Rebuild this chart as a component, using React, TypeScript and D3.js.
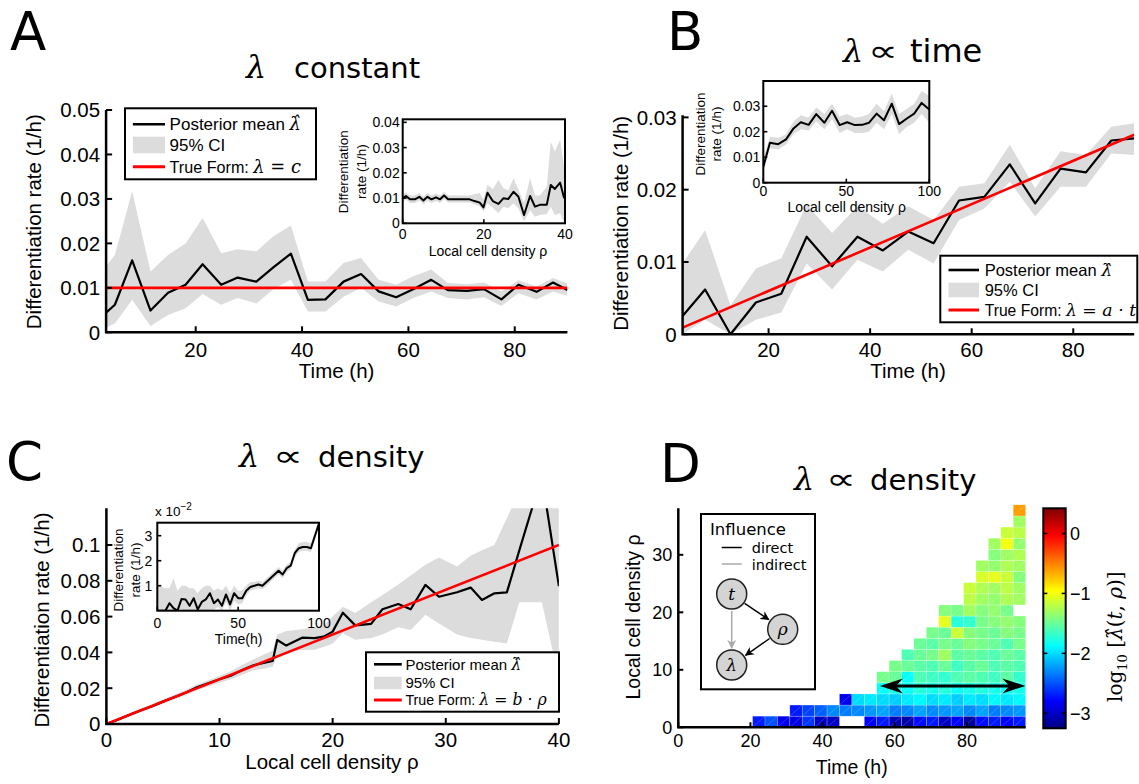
import React from 'react';
import * as d3 from 'd3';

const SANS = "'Liberation Sans', Arial, Helvetica, sans-serif";
const DV = "'DejaVu Sans', sans-serif";
const SERIF = "'DejaVu Serif', serif";
const BAND = '#dcdcdc';
const RED = '#ff0000';

// ---------------- Panel A : lambda constant ----------------
const timeA = [3.15, 4.8, 8.05, 11.5, 14.8, 18.1, 21.3, 24.8, 27.9, 31.4, 34.6, 37.9, 41.1, 44.4, 47.8, 51.1, 54.4, 57.7, 60.9, 64.3, 67.4, 71, 74.2, 77.5, 80.7, 84.1, 87.2, 89.9];
const meanA = [0.0044, 0.0062, 0.0162, 0.0049, 0.0089, 0.0107, 0.0153, 0.0107, 0.0123, 0.0114, 0.0146, 0.0177, 0.0073, 0.0074, 0.0114, 0.0131, 0.0092, 0.0079, 0.0097, 0.0118, 0.0095, 0.0093, 0.0097, 0.0074, 0.0107, 0.0091, 0.0112, 0.0095];
const upperA = [0.0148, 0.0174, 0.0317, 0.0137, 0.0174, 0.02, 0.0257, 0.0178, 0.0187, 0.0182, 0.0216, 0.024, 0.0114, 0.0114, 0.0156, 0.0167, 0.0118, 0.0107, 0.0126, 0.0141, 0.0111, 0.0108, 0.0112, 0.0092, 0.0117, 0.0103, 0.0122, 0.011];
const lowerA = [0.0011, 0.002, 0.0073, 0.0014, 0.0039, 0.0054, 0.0086, 0.0062, 0.0077, 0.0065, 0.0097, 0.0118, 0.0047, 0.0047, 0.008, 0.01, 0.0069, 0.0058, 0.0077, 0.0092, 0.0077, 0.0074, 0.0079, 0.0059, 0.0088, 0.0074, 0.0092, 0.0082];
const trueTimeA = [3.15, 89.9];
const trueRateA = [0.01, 0.01];
const xTicksA = [20, 40, 60, 80];
const yTicksA = [0, 0.01, 0.02, 0.03, 0.04, 0.05];

// inset A
const rhoIA = [0, 0.8, 1.8, 3, 4.1, 5.1, 6.1, 7.1, 8.2, 9.2, 10.2, 11.2, 16.5, 17.7, 19, 19.9, 20.9, 22.2, 23.6, 24.8, 26, 27.3, 28.5, 29.9, 31.4, 32.6, 33.8, 35.5, 36.5, 37.5, 38.8, 39.8];
const meanIA = [0.0099, 0.0108, 0.0095, 0.0095, 0.0105, 0.009, 0.0105, 0.0095, 0.0103, 0.0095, 0.011, 0.0095, 0.0095, 0.0088, 0.0082, 0.0063, 0.0121, 0.0088, 0.0077, 0.0099, 0.0096, 0.0125, 0.0106, 0.0033, 0.0108, 0.0066, 0.0073, 0.0073, 0.0152, 0.0136, 0.0161, 0.0099];
const upperIA = [0.0115, 0.0122, 0.011, 0.011, 0.012, 0.0105, 0.012, 0.011, 0.0118, 0.011, 0.0125, 0.011, 0.011, 0.0115, 0.012, 0.0095, 0.0153, 0.0135, 0.0172, 0.014, 0.013, 0.0178, 0.0135, 0.008, 0.0178, 0.011, 0.011, 0.0145, 0.0323, 0.0284, 0.033, 0.0224];
const lowerIA = [0.0085, 0.0094, 0.008, 0.008, 0.009, 0.0075, 0.009, 0.008, 0.0088, 0.008, 0.0095, 0.0082, 0.0082, 0.0075, 0.0068, 0.0046, 0.0079, 0.0062, 0.004, 0.0066, 0.006, 0.0079, 0.006, 0.0007, 0.0053, 0.0026, 0.0033, 0.0037, 0.0066, 0.0033, 0.004, 0.0003];
const xTicksIA = [0, 20, 40];
const yTicksIA = [0, 0.01, 0.02, 0.03, 0.04];

// ---------------- Panel B : lambda ∝ time ----------------
const timeB = [3.07, 7.5, 12.5, 17.5, 22.5, 27.5, 32.5, 37.5, 42.5, 47.5, 52.5, 57.5, 62.5, 67.5, 72.5, 77.5, 82.5, 87.5, 92];
const meanB = [0.00253, 0.0062, 0, 0.0044, 0.0056, 0.0135, 0.0094, 0.0135, 0.0116, 0.0142, 0.0126, 0.0185, 0.019, 0.0235, 0.0181, 0.0229, 0.0224, 0.0268, 0.0271];
const upperB = [0.0098, 0.0144, 0.004, 0.0091, 0.0105, 0.0179, 0.014, 0.0177, 0.0153, 0.0177, 0.0158, 0.0204, 0.0209, 0.0262, 0.0202, 0.0253, 0.0248, 0.0287, 0.0292];
const lowerB = [0, 0.002, 0, 0.002, 0.003, 0.0098, 0.0062, 0.0103, 0.0087, 0.0117, 0.0098, 0.0158, 0.0174, 0.0211, 0.0163, 0.0204, 0.0204, 0.025, 0.0248];
const trueTimeB = [3.07, 92];
const trueRateB = [0.00092, 0.0276];
const xTicksB = [20, 40, 60, 80];
const yTicksB = [0, 0.01, 0.02, 0.03];

// inset B
const rhoIB = [0, 4, 9, 13.7, 18.2, 22.6, 27.3, 31.9, 36.8, 41.4, 46, 50.5, 55.2, 59.6, 63.6, 68.3, 72.7, 77.4, 81.8, 86.5, 90.9, 95.4, 100];
const meanIB = [0.0063, 0.0157, 0.0151, 0.017, 0.0213, 0.0237, 0.0227, 0.0269, 0.0235, 0.0282, 0.0226, 0.0237, 0.0226, 0.0227, 0.0235, 0.0271, 0.0245, 0.031, 0.023, 0.0252, 0.0271, 0.0313, 0.0287];
const upperIB = [0.0095, 0.018, 0.0175, 0.019, 0.024, 0.0265, 0.0255, 0.0295, 0.027, 0.031, 0.026, 0.027, 0.0255, 0.026, 0.027, 0.031, 0.028, 0.035, 0.027, 0.029, 0.031, 0.036, 0.034];
const lowerIB = [0.004, 0.0135, 0.013, 0.015, 0.019, 0.021, 0.0205, 0.024, 0.021, 0.025, 0.0195, 0.021, 0.0195, 0.0195, 0.02, 0.0235, 0.021, 0.027, 0.019, 0.022, 0.0235, 0.027, 0.0235];
const xTicksIB = [0, 50, 100];
const yTicksIB = [0, 0.01, 0.02, 0.03];

// ---------------- Panel C : lambda ∝ density ----------------
const rhoC = [0, 1, 2, 3, 4, 5, 6, 7, 8, 9, 10, 11, 12, 13, 14, 14.7, 15.1, 15.9, 17.3, 18.4, 19.2, 20, 20.9, 22, 23.4, 24.4, 25.8, 26.9, 28.2, 29.4, 31, 32.2, 33.2, 34.3, 35.4, 36.5, 37.6, 38.5, 40];
const meanC = [0, 0.0024, 0.005, 0.0075, 0.0098, 0.0125, 0.015, 0.0175, 0.0205, 0.0228, 0.025, 0.027, 0.0302, 0.0328, 0.0342, 0.0352, 0.0469, 0.0438, 0.0482, 0.048, 0.0488, 0.0516, 0.0622, 0.0551, 0.0559, 0.0641, 0.067, 0.0641, 0.0777, 0.0711, 0.0736, 0.0762, 0.0693, 0.073, 0.0735, 0.097, 0.12, 0.138, 0.077];
const upperC = [0, 0.003, 0.006, 0.0085, 0.011, 0.0138, 0.0163, 0.019, 0.022, 0.0245, 0.027, 0.0295, 0.033, 0.036, 0.039, 0.041, 0.05, 0.052, 0.053, 0.054, 0.055, 0.06, 0.0655, 0.062, 0.068, 0.072, 0.078, 0.083, 0.089, 0.093, 0.088, 0.094, 0.097, 0.1, 0.115, 0.13, 0.14, 0.15, 0.15];
const lowerC = [0, 0.0015, 0.0042, 0.0066, 0.0088, 0.0113, 0.0137, 0.016, 0.019, 0.021, 0.023, 0.025, 0.0275, 0.03, 0.031, 0.032, 0.038, 0.04, 0.0413, 0.0415, 0.043, 0.045, 0.0507, 0.047, 0.048, 0.05, 0.054, 0.0525, 0.061, 0.0562, 0.05, 0.048, 0.047, 0.046, 0.045, 0.068, 0.068, 0.068, 0.025];
const trueRhoC = [0, 40];
const trueRateC = [0, 0.1];
const xTicksC = [0, 10, 20, 30, 40];
const yTicksC = [0, 0.02, 0.04, 0.06, 0.08, 0.1];

// inset C (values in units of 1e-2)
const timeIC = [0, 2.5, 5, 7.5, 10, 12.5, 15, 17.5, 20, 22.5, 25, 27.5, 30, 32.5, 35, 37.5, 40, 42.5, 45, 47.5, 50, 52.5, 55, 57.5, 60, 62.5, 65, 67.5, 70, 72.5, 75, 77.5, 80, 82.5, 85, 87.5, 90, 92.5, 95, 97.5, 100];
const meanIC = [0, 0, 0, 0.3, 0.1, 0, 0.47, 0.45, 0.2, 0.5, 0.05, 0.35, 0.45, 0.7, 0.3, 0.45, 0.2, 0.65, 0.25, 0.7, 0.5, 0.5, 0.8, 0.95, 1.0, 1.05, 1.0, 1.15, 1.3, 1.45, 1.6, 1.45, 1.7, 1.8, 2.3, 2.5, 2.55, 2.55, 2.5, 3.0, 3.5];
const upperIC = [1.0, 0.95, 0.9, 0.9, 1.3, 0.8, 1.0, 1.0, 0.9, 0.9, 0.7, 0.9, 1.0, 1.0, 0.8, 0.9, 0.8, 1.0, 0.7, 1.0, 0.8, 0.8, 1.0, 1.15, 1.15, 1.2, 1.15, 1.3, 1.45, 1.6, 1.75, 1.6, 1.85, 1.95, 2.45, 2.7, 2.75, 2.75, 2.7, 3.15, 3.55];
const lowerIC = [0, 0, 0, 0, 0, 0, 0, 0, 0, 0, 0, 0, 0, 0, 0.05, 0.15, 0, 0.35, 0, 0.4, 0.25, 0.3, 0.6, 0.8, 0.85, 0.9, 0.85, 1.0, 1.15, 1.3, 1.45, 1.3, 1.55, 1.65, 2.15, 2.35, 2.4, 2.4, 2.35, 2.85, 3.45];
const xTicksIC = [0, 50, 100];
const yTicksIC = [1, 2, 3];

// ---------------- Panel D : heat map log10 lambda(t, rho) ----------------
const heatFirstTime = 20.6;   // left edge of first time bin (h)
const heatTimeBin = 3.44;     // width of a time bin (h)
const heatRhoBin = 1.935;     // height of a density bin
const heatStartCol = [0, 3, 7, 10, 10, 11, 12, 13, 14, 15, 15, 17, 17, 18, 18, 19, 19, 20, 21, 21];
const heatRows: (number | null)[][] = [
  [-2.7, -2.5, -2.85, -2.9, -2.6, -3.0, -3.0, null, null, -2.8, -2.7, -3.05, -3.1, -2.75, -2.7, -3.0, -2.8, -3.15, -2.75, -2.7, -2.8, -2.7],
  [-2.7, -2.55, -2.45, -2.3, -2.35, -2.3, -2.25, -2.2, -2.35, -2.3, -2.2, -2.3, -2.25, -2.2, -2.3, -2.2, -2.35, -2.3, -2.25],
  [-2.85, -2.0, -1.95, -2.0, -2.05, -1.95, -1.9, -2.0, -1.95, -2.05, -1.95, -2.0, -1.9, -1.95, -1.9],
  [-1.85, -1.8, -1.85, -1.75, -1.8, -1.75, -1.85, -1.8, -1.75, -1.8, -1.85, -1.8],
  [-1.45, -1.5, -1.85, -1.6, -1.65, -1.7, -1.6, -1.55, -1.6, -1.65, -1.55, -1.7],
  [-1.45, -1.5, -1.55, -1.6, -1.5, -1.65, -1.55, -1.5, -1.6, -1.55, -1.6],
  [-1.6, -1.5, -1.45, -1.3, -1.55, -1.5, -1.55, -1.6, -1.5, -1.55],
  [-1.5, -1.55, -1.45, -1.5, -1.4, -1.45, -1.5, -1.6, -1.45],
  [-1.45, -1.5, -1.15, -1.4, -1.45, -1.5, -1.4, -1.45],
  [-1.05, -1.75, -1.7, -1.45, -1.4, -1.35, -1.4],
  [-1.4, -1.45, -1.3, -1.4, -1.35, -1.45],
  [-1.2, -1.3, -1.35, -1.25, -1.3],
  [-1.15, -1.25, -1.3, -1.2, -1.3],
  [-1.1, -1.05, -1.15, -1.4],
  [-1.3, -1.35, -1.25, -1.3],
  [-1.4, -1.3, -1.25],
  [-1.3, -1.0, -1.35],
  [-1.15, -1.2],
  [-1.3],
  [-0.6],
];
const colorDomainD = [-3.25, 0.42];
const cbTicks = [-3, -2, -1, 0];
const xTicksD = [0, 20, 40, 60, 80];
const yTicksD = [0, 10, 20, 30];
const arrowTimeD = [55.9, 96.2];
const arrowRhoD = 7.2;

function jet(n: number) {
  const c = (v: number) => Math.max(0, Math.min(1, v));
  return d3.rgb(255 * c(1.5 - Math.abs(4 * n - 3)), 255 * c(1.5 - Math.abs(4 * n - 2)), 255 * c(1.5 - Math.abs(4 * n - 1))).formatHex();
}
const jetScale = (v: number) => jet((v - colorDomainD[0]) / (colorDomainD[1] - colorDomainD[0]));

function Series({ xs, mean, lo, hi, tx, ty, x, y, clip, lw = 2.2, rw = 2.6 }: any) {
  const area = d3.area<number>().x((d) => x(d)).y0((d, i) => y(lo[i])).y1((d, i) => y(hi[i]));
  const line = d3.line<number>().x((d) => x(d)).y((d, i) => y(mean[i]));
  const tline = tx ? d3.line<number>().x((d) => x(d)).y((d, i) => y(ty[i])) : null;
  return (
    <g clipPath={`url(#${clip})`}>
      <path d={area(xs) || ''} fill={BAND} />
      <path d={line(xs) || ''} fill="none" stroke="#000" strokeWidth={lw} strokeLinejoin="round" />
      {tline && <path d={tline(tx) || ''} fill="none" stroke={RED} strokeWidth={rw} />}
    </g>
  );
}

function Axes({ x, y, xTicks, yTicks, fs, tick, xLabelY, box, sw, yGap = 6, fmtX = String, fmtY = String }: any) {
  const [x0, x1] = x.range();
  const [y0, y1] = y.range();
  return (
    <g fontFamily={SANS}>
      {box ? (
        <rect x={x0} y={y1} width={x1 - x0} height={y0 - y1} fill="none" stroke="#000" strokeWidth={sw} />
      ) : (
        <path d={`M${x0},${y1}V${y0}H${x1}`} fill="none" stroke="#000" strokeWidth={sw} />
      )}
      {xTicks.map((t: number) => (
        <line key={'xt' + t} x1={x(t)} x2={x(t)} y1={y0} y2={y0 - tick} stroke="#000" strokeWidth={sw * 0.8} />
      ))}
      {yTicks.map((t: number) => (
        <line key={'yt' + t} x1={x0} x2={x0 + tick} y1={y(t)} y2={y(t)} stroke="#000" strokeWidth={sw * 0.8} />
      ))}
      {xTicks.map((t: number) => (
        <text key={'xl' + t} x={x(t)} y={xLabelY} textAnchor="middle" fontSize={fs}>{fmtX(t)}</text>
      ))}
      {yTicks.map((t: number) => (
        <text key={'yl' + t} x={x0 - yGap} y={y(t) + fs * 0.36} textAnchor="end" fontSize={fs}>{fmtY(t)}</text>
      ))}
    </g>
  );
}

const Hat = ({ fs }: any) => (
  <tspan fontFamily={SERIF} fontStyle="italic" fontSize={fs}>{'λ\u0302'}</tspan>
);

function Legend({ x, y, w, h, fs, rows, lineX0, lineX1, textX, math }: any) {
  const [yl, bt, bb, yr] = rows;
  return (
    <g fontFamily={SANS}>
      <rect x={x} y={y} width={w} height={h} fill="#fff" stroke="#000" strokeWidth={2} />
      <line x1={lineX0} x2={lineX1} y1={yl} y2={yl} stroke="#000" strokeWidth={2.6} />
      <text x={textX} y={yl + fs * 0.36} fontSize={fs}>Posterior mean <tspan dx={4}></tspan><Hat fs={fs * 1.05} /></text>
      <rect x={lineX0} y={bt} width={lineX1 - lineX0} height={bb - bt} fill={BAND} />
      <text x={textX} y={(bt + bb) / 2 + fs * 0.36} fontSize={fs}>95% CI</text>
      <line x1={lineX0} x2={lineX1} y1={yr} y2={yr} stroke={RED} strokeWidth={3} />
      <text x={textX} y={yr + fs * 0.36} fontSize={fs * 0.95}>True Form: <tspan fontFamily={SERIF} fontStyle="italic" fontSize={fs * 1.05}>{math}</tspan></text>
    </g>
  );
}

function InsetYLabel({ x1, x2, cy, fs }: any) {
  return (
    <g fontFamily={SANS} fontSize={fs}>
      <text transform={`translate(${x1},${cy}) rotate(-90)`} textAnchor="middle">Differentiation</text>
      <text transform={`translate(${x2},${cy}) rotate(-90)`} textAnchor="middle">rate (1/h)</text>
    </g>
  );
}

function Title({ xL, xP, xW, y, word, fs = 29 }: any) {
  return (
    <g>
      <text x={xL} y={y} fontFamily={SERIF} fontStyle="italic" fontSize={32}>λ</text>
      {xP !== null && (
        <text transform={`translate(${xP},${y - 1}) scale(1.55,1.1)`} fontFamily={DV} fontSize={27}>∝</text>
      )}
      <text x={xW} y={y} fontFamily={DV} fontSize={fs}>{word}</text>
    </g>
  );
}

export default function App() {
  const xA = d3.scaleLinear().domain([3.15, 89.9]).range([106.1, 567.4]);
  const yA = d3.scaleLinear().domain([0, 0.05]).range([332.3, 110]);
  const xIA = d3.scaleLinear().domain([0, 40]).range([402.7, 565]);
  const yIA = d3.scaleLinear().domain([0, 0.0412]).range([223.3, 119.3]);

  const xB = d3.scaleLinear().domain([3.07, 92]).range([682.6, 1134.2]);
  const yB = d3.scaleLinear().domain([0, 0.0303]).range([334.3, 115.2]);
  const xIB = d3.scaleLinear().domain([0, 100]).range([763.3, 929.3]);
  const yIB = d3.scaleLinear().domain([0, 0.0399]).range([182.7, 81]);

  const xC = d3.scaleLinear().domain([0, 40]).range([106.4, 558.9]);
  const yC = d3.scaleLinear().domain([0, 0.1205]).range([724, 508.3]);
  const xIC = d3.scaleLinear().domain([0, 100]).range([157.3, 319]);
  const yIC = d3.scaleLinear().domain([0, 3.52]).range([610.7, 522.7]);

  const xD = d3.scaleLinear().domain([0, 96.3]).range([678.3, 1025.7]);
  const yD = d3.scaleLinear().domain([0, 38.7]).range([727.3, 504.8]);
  const yCB = d3.scaleLinear().domain(colorDomainD).range([728.3, 508.3]);

  const clipRect = (id: string, x: any, y: any) => {
    const [x0, x1] = x.range();
    const [y0, y1] = y.range();
    return (
      <clipPath id={id} key={id}>
        <rect x={x0} y={y1} width={x1 - x0} height={y0 - y1} />
      </clipPath>
    );
  };

  const gradStops = d3.range(0, 1.0001, 0.025).map((o) => (
    <stop key={o} offset={o} stopColor={jet(o)} />
  ));

  const cells: any[] = [];
  heatRows.forEach((row, r) => {
    row.forEach((v, i) => {
      if (v === null) return;
      const col = heatStartCol[r] + i;
      const t0 = heatFirstTime + heatTimeBin * col;
      const x0 = xD(t0);
      const x1 = xD(t0 + heatTimeBin);
      const yb = yD(heatRhoBin * r);
      const yt = yD(heatRhoBin * (r + 1));
      cells.push(
        <g key={r + '-' + col}>
          <rect x={x0} y={yt} width={x1 - x0} height={yb - yt} fill={jetScale(v)} stroke="rgba(255,255,255,0.35)" strokeWidth={0.6} />
          <line x1={x0} y1={yb} x2={x1} y2={yt} stroke="rgba(255,255,255,0.3)" strokeWidth={0.6} />
        </g>
      );
    });
  });

  const ax1 = xD(arrowTimeD[0]);
  const ax2 = xD(arrowTimeD[1]);
  const ay = yD(arrowRhoD);
  const headL = 23, headW = 7.5, notch = 16;

  return (
    <svg width={1139} height={784} style={{ position: 'absolute', left: 0, top: 0, background: '#fff' }}>
      <defs>
        {clipRect('clipA', xA, yA)}
        {clipRect('clipIA', xIA, yIA)}
        {clipRect('clipB', xB, yB)}
        {clipRect('clipIB', xIB, yIB)}
        {clipRect('clipC', xC, yC)}
        {clipRect('clipIC', xIC, yIC)}
        <linearGradient id="jetGrad" x1="0" y1="1" x2="0" y2="0">{gradStops}</linearGradient>
        <marker id="ahB" viewBox="0 0 10 10" refX="9" refY="5" markerWidth="9" markerHeight="9" markerUnits="userSpaceOnUse" orient="auto">
          <path d="M0,0 L10,5 L0,10 L3,5 z" fill="#000" />
        </marker>
        <marker id="ahG" viewBox="0 0 10 10" refX="9" refY="5" markerWidth="9" markerHeight="9" markerUnits="userSpaceOnUse" orient="auto">
          <path d="M0,0 L10,5 L0,10 L3,5 z" fill="#aaa" />
        </marker>
      </defs>

      {/* ================= Panel A ================= */}
      <text x={10} y={50} fontFamily={DV} fontSize={53}>A</text>
      <Title xL={246} xP={null} xW={294} y={78} word="constant" />
      <Series xs={timeA} mean={meanA} lo={lowerA} hi={upperA} tx={trueTimeA} ty={trueRateA} x={xA} y={yA} clip="clipA" />
      <Axes x={xA} y={yA} xTicks={xTicksA} yTicks={yTicksA} fs={20.5} tick={6} xLabelY={356.7} sw={2.5} />
      <text x={336.6} y={378} textAnchor="middle" fontFamily={SANS} fontSize={20.5}>Time (h)</text>
      <text transform="translate(41,221.7) rotate(-90)" textAnchor="middle" fontFamily={SANS} fontSize={20.5}>Differentiation rate (1/h)</text>
      <Legend x={125} y={108.3} w={191} h={71} fs={17} rows={[124.3, 136.7, 153.3, 166.7]} lineX0={132.9} lineX1={165} textX={169.6} math={'λ = c'} />

      {/* inset A */}
      <rect x={402.7} y={119.3} width={162.3} height={104} fill="#fff" />
      <Series xs={rhoIA} mean={meanIA} lo={lowerIA} hi={upperIA} x={xIA} y={yIA} clip="clipIA" lw={2} />
      <Axes x={xIA} y={yIA} xTicks={xTicksIA} yTicks={yTicksIA} fs={14} tick={4} xLabelY={238.5} sw={2} yGap={3} box />
      <text x={488} y={255.5} textAnchor="middle" fontFamily={SANS} fontSize={14}>Local cell density ρ</text>
      <InsetYLabel x1={348} x2={366.4} cy={171.7} fs={13.5} />

      {/* ================= Panel B ================= */}
      <text x={667} y={50} fontFamily={DV} fontSize={53}>B</text>
      <Title xL={843} xP={868} xW={910} y={62} word="time" fs={32} />
      <Series xs={timeB} mean={meanB} lo={lowerB} hi={upperB} tx={trueTimeB} ty={trueRateB} x={xB} y={yB} clip="clipB" />
      <Axes x={xB} y={yB} xTicks={xTicksB} yTicks={yTicksB} fs={20.5} tick={6} xLabelY={356.7} sw={2.5} />
      <text x={908} y={378} textAnchor="middle" fontFamily={SANS} fontSize={20.5}>Time (h)</text>
      <text transform="translate(628,223.3) rotate(-90)" textAnchor="middle" fontFamily={SANS} fontSize={20.5}>Differentiation rate (1/h)</text>
      <Legend x={940.3} y={255.7} w={197} h={66.6} fs={16.5} rows={[270, 282.7, 297.3, 310]} lineX0={948.5} lineX1={979} textX={984.7} math={'λ = a · t'} />

      {/* inset B */}
      <rect x={763.3} y={81} width={166} height={101.7} fill="#fff" />
      <Series xs={rhoIB} mean={meanIB} lo={lowerIB} hi={upperIB} x={xIB} y={yIB} clip="clipIB" lw={2} />
      <Axes x={xIB} y={yIB} xTicks={xTicksIB} yTicks={yTicksIB} fs={14} tick={4} xLabelY={196} sw={2} yGap={3} box />
      <text x={846.7} y={211.5} textAnchor="middle" fontFamily={SANS} fontSize={14}>Local cell density ρ</text>
      <InsetYLabel x1={704.7} x2={721.4} cy={134} fs={13.5} />

      {/* ================= Panel C ================= */}
      <text x={6} y={480} fontFamily={DV} fontSize={53}>C</text>
      <Title xL={239} xP={273} xW={318} y={467} word="density" />
      <Series xs={rhoC} mean={meanC} lo={lowerC} hi={upperC} tx={trueRhoC} ty={trueRateC} x={xC} y={yC} clip="clipC" />
      <Axes x={xC} y={yC} xTicks={xTicksC} yTicks={yTicksC} fs={20.5} tick={6} xLabelY={746.7} sw={2.5} />
      <text x={332} y={769} textAnchor="middle" fontFamily={SANS} fontSize={20.5}>Local cell density ρ</text>
      <text transform="translate(49,620) rotate(-90)" textAnchor="middle" fontFamily={SANS} fontSize={20.5}>Differentiation rate (1/h)</text>
      <Legend x={366} y={652.3} w={193} h={59.4} fs={15} rows={[664.3, 676.7, 689.3, 700]} lineX0={374} lineX1={401.8} textX={405.4} math={'λ = b · ρ'} />

      {/* inset C */}
      <rect x={157.3} y={522.7} width={161.7} height={88} fill="#fff" />
      <Series xs={timeIC} mean={meanIC} lo={lowerIC} hi={upperIC} x={xIC} y={yIC} clip="clipIC" lw={2} />
      <Axes x={xIC} y={yIC} xTicks={xTicksIC} yTicks={yTicksIC} fs={14} tick={4} xLabelY={628} sw={2} yGap={5} box />
      <text x={238.6} y={643.5} textAnchor="middle" fontFamily={SANS} fontSize={14}>Time(h)</text>
      <text x={155} y={516} fontFamily={SANS} fontSize={13.5}>x 10<tspan dy={-6} fontSize={10}>−2</tspan></text>
      <InsetYLabel x1={122.6} x2={140.4} cy={570} fs={13.5} />

      {/* ================= Panel D ================= */}
      <text x={660} y={482} fontFamily={DV} fontSize={53}>D</text>
      <Title xL={794} xP={826} xW={870} y={490} word="density" />
      {cells}
      <g fontFamily={SANS}>
        <path d={`M${xD(0)},${yD(38.1)}V${yD(0)}H${xD(96.3)}`} fill="none" stroke="#000" strokeWidth={2.5} />
        {xTicksD.map((t) => (
          <g key={'dx' + t}>
            <line x1={xD(t)} x2={xD(t)} y1={yD(0)} y2={yD(0) - 5} stroke="#000" strokeWidth={2} />
            <text x={xD(t)} y={746.7} textAnchor="middle" fontSize={18}>{t}</text>
          </g>
        ))}
        {yTicksD.map((t) => (
          <g key={'dy' + t}>
            <line x1={xD(0)} x2={xD(0) + 5} y1={yD(t)} y2={yD(t)} stroke="#000" strokeWidth={2} />
            <text x={xD(0) - 6} y={yD(t) + 6.5} textAnchor="end" fontSize={18}>{t}</text>
          </g>
        ))}
        <text x={851.7} y={774} textAnchor="middle" fontSize={19.5}>Time (h)</text>
        <text transform="translate(640,617) rotate(-90)" textAnchor="middle" fontSize={19.5}>Local cell density ρ</text>
      </g>
      <g>
        <line x1={ax1 + notch} x2={ax2 - notch} y1={ay} y2={ay} stroke="#000" strokeWidth={3} />
        <polygon points={`${ax1},${ay} ${ax1 + headL},${ay - headW} ${ax1 + notch},${ay} ${ax1 + headL},${ay + headW}`} fill="#000" />
        <polygon points={`${ax2},${ay} ${ax2 - headL},${ay - headW} ${ax2 - notch},${ay} ${ax2 - headL},${ay + headW}`} fill="#000" />
      </g>
      <g fontFamily={DV}>
        <rect x={701} y={514} width={114} height={175.3} fill="#fff" stroke="#000" strokeWidth={2} />
        <text x={710} y={534.5} fontSize={16.5}>Influence</text>
        <line x1={721.7} x2={741.7} y1={547.5} y2={547.5} stroke="#000" strokeWidth={1.5} />
        <text x={751.7} y={552.5} fontSize={14.5}>direct</text>
        <line x1={721.7} x2={741.7} y1={564} y2={564} stroke="#aaa" strokeWidth={1.5} />
        <text x={751.7} y={569.5} fontSize={14.5}>indirect</text>
        <line x1={744.6} y1={603.4} x2={768.7} y2={619.6} stroke="#000" strokeWidth={1.5} markerEnd="url(#ahB)" />
        <line x1={769.6} y1={638.5} x2={745.6} y2={655.3} stroke="#000" strokeWidth={1.5} markerEnd="url(#ahB)" />
        <line x1={731.7} y1={611} x2={731.7} y2={648} stroke="#aaa" strokeWidth={1.5} markerEnd="url(#ahG)" />
        <circle cx={731.7} cy={594} r={15} fill="#d4d4d4" stroke="#222" strokeWidth={1.5} />
        <circle cx={782.7} cy={629.3} r={15} fill="#d4d4d4" stroke="#222" strokeWidth={1.5} />
        <circle cx={731.7} cy={665} r={15} fill="#d4d4d4" stroke="#222" strokeWidth={1.5} />
        <text x={731.7} y={600} textAnchor="middle" fontFamily={SERIF} fontStyle="italic" fontSize={17}>t</text>
        <text x={782.7} y={635} textAnchor="middle" fontFamily={SERIF} fontStyle="italic" fontSize={17}>ρ</text>
        <text x={731.7} y={671} textAnchor="middle" fontFamily={SERIF} fontStyle="italic" fontSize={17}>λ</text>
      </g>
      <g fontFamily={SANS}>
        <rect x={1043.3} y={508.3} width={22.4} height={220} fill="url(#jetGrad)" stroke="#000" strokeWidth={2} />
        {cbTicks.map((t) => (
          <g key={'cb' + t}>
            <line x1={1043.3} x2={1047.3} y1={yCB(t)} y2={yCB(t)} stroke="#000" strokeWidth={1.5} />
            <line x1={1065.7} x2={1061.7} y1={yCB(t)} y2={yCB(t)} stroke="#000" strokeWidth={1.5} />
            <text x={1070} y={yCB(t) + 6.5} fontSize={18}>{t === 0 ? '0' : '−' + Math.abs(t)}</text>
          </g>
        ))}
        <text transform="translate(1122,636.7) rotate(-90)" textAnchor="middle" fontFamily={SERIF} fontSize={20}>
          log<tspan fontSize={13} dy={5}>10</tspan><tspan dy={-5}> [</tspan><tspan fontStyle="italic">{'λ\u0302'}</tspan>(<tspan fontStyle="italic">t</tspan>, <tspan fontStyle="italic">ρ</tspan>)]
        </text>
      </g>
    </svg>
  );
}
